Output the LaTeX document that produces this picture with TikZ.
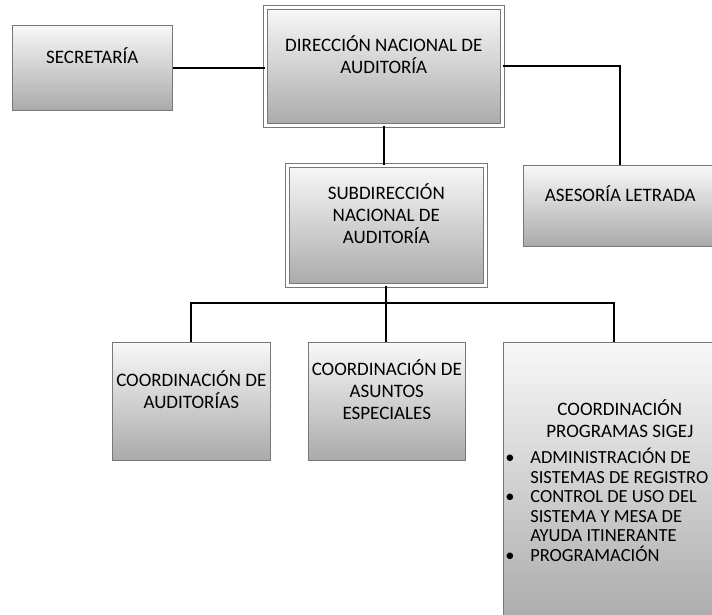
\documentclass[tikz,border=0pt]{standalone}
\usepackage{fontspec}
\usepackage{array}
\setmainfont{Carlito}
\usetikzlibrary{positioning,calc}
\definecolor{boxline}{RGB}{120,120,120}
\definecolor{boxtop}{RGB}{248,248,248}
\definecolor{boxbottom}{RGB}{170,170,170}

\tikzset{
  unitbox/.style={draw=boxline,line width=0.6pt,top color=boxtop,bottom color=boxbottom,
    anchor=north west,align=center,inner sep=2pt},
  raised/.style={unitbox,text depth=24pt},
  headbox/.style={raised,double=white,double distance=3.5pt},
  link/.style={line width=1.8pt,black}
}
\newcommand{\listsize}{\fontsize{18.5}{19.5}\selectfont}

\begin{document}
\begin{tikzpicture}[x=1pt,y=-1pt,font=\fontsize{19}{22}\selectfont]
\useasboundingbox (0,0) rectangle (712,615);
% upper level
\node[raised,minimum width=160,minimum height=85] (sec) at (12,25) {SECRETARÍA};
\node[headbox,minimum width=237,minimum height=118] (dir) at (265,7) {DIRECCIÓN NACIONAL DE\\AUDITORÍA};
\node[raised,minimum width=194,minimum height=81] (ase) at (523,165) {ASESORÍA LETRADA};
\node[headbox,minimum width=198,minimum height=120] (sub) at (287,165) {SUBDIRECCIÓN\\NACIONAL DE\\AUDITORÍA};
% coordinations
\node[raised,minimum width=158,minimum height=118] (aud) at (112,342) {COORDINACIÓN DE\\AUDITORÍAS};
\node[raised,minimum width=157,minimum height=118] (asu) at (308,342) {COORDINACIÓN DE\\ASUNTOS\\ESPECIALES};
\node[unitbox,minimum width=220,minimum height=283] (prog) at (503,342) {%
\begin{tabular}{@{}>{\listsize}p{25pt}@{}>{\listsize}l@{\hspace{14pt}}}
\multicolumn{2}{c}{\hspace{12pt}COORDINACIÓN}\\
\multicolumn{2}{c}{\hspace{12pt}PROGRAMAS SIGEJ}\\[4pt]
\textbullet & ADMINISTRACIÓN DE\\[-2.5pt]
 & SISTEMAS DE REGISTRO\\[-2.5pt]
\textbullet & CONTROL DE USO DEL\\[-2.5pt]
 & SISTEMA Y MESA DE\\[-2.5pt]
 & AYUDA ITINERANTE\\[-2.5pt]
\textbullet & PROGRAMACIÓN
\end{tabular}};
\coordinate (bus) at (386,303);
% connectors
\draw[link] (sec.east) -- (sec.east -| dir.west);
\draw[link] (dir.east) -| (ase.north);
\draw[link] (dir.south) -- (dir.south |- sub.north);
\draw[link] (sub.south) -- (sub.south |- asu.north);
\draw[link] (aud.north) |- (bus) -| (prog.north);
\end{tikzpicture}
\end{document}
